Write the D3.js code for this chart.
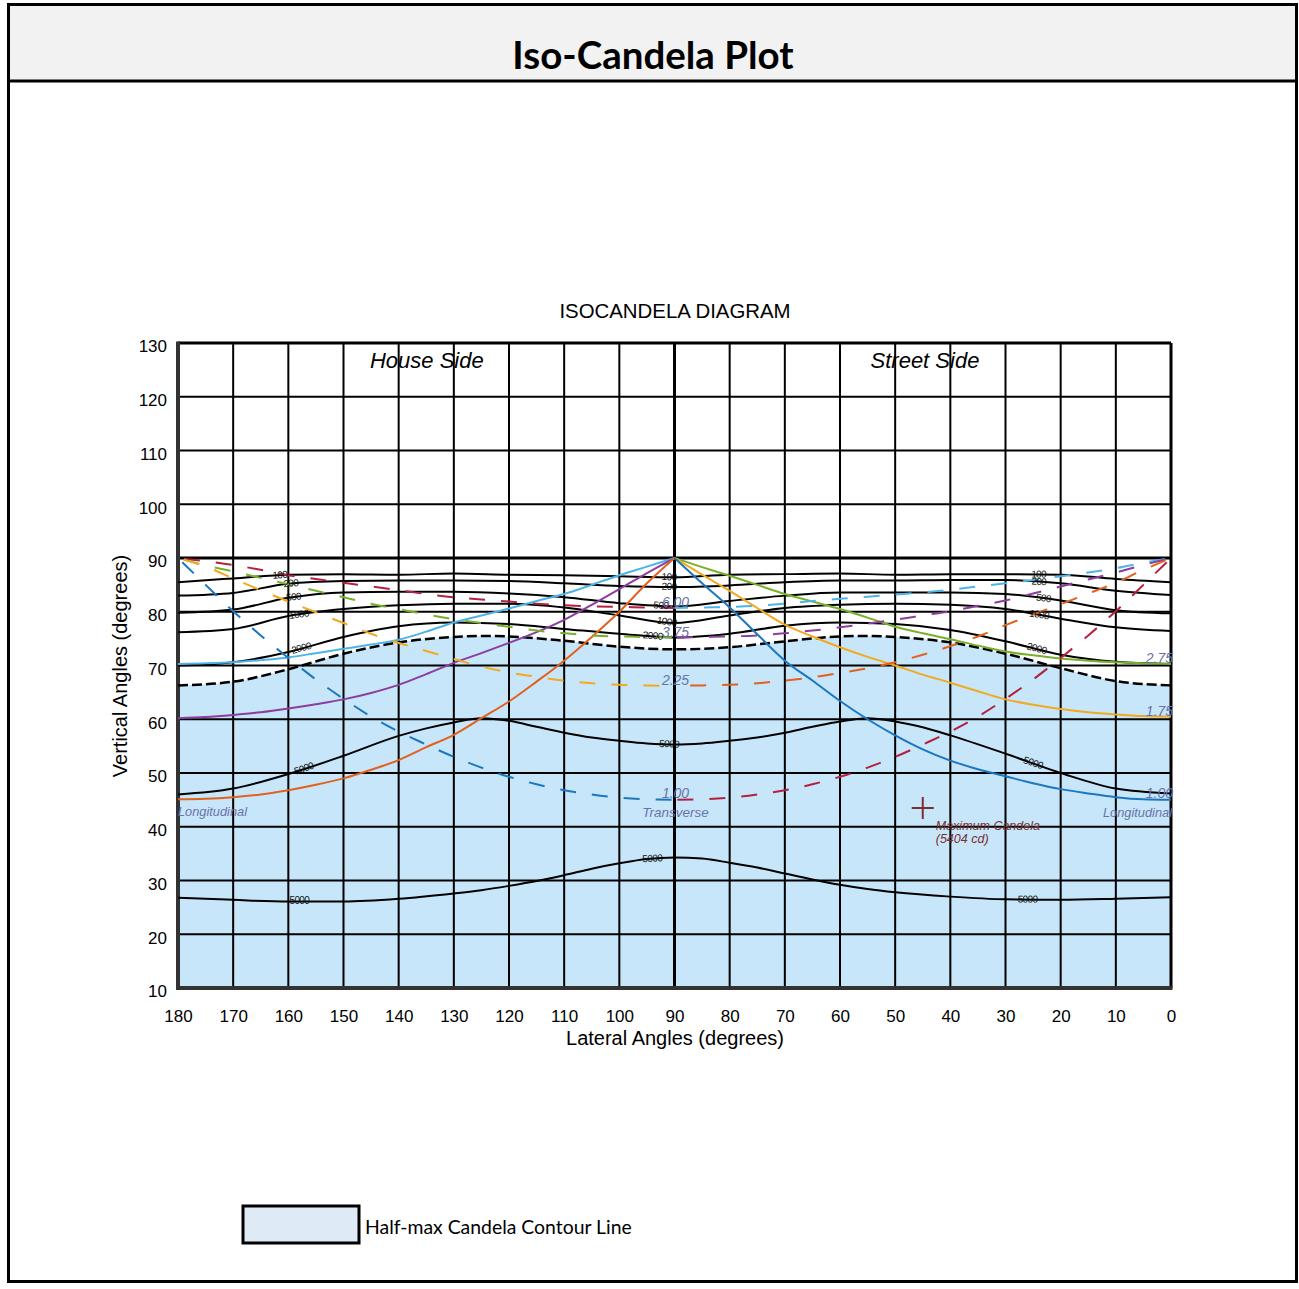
<!DOCTYPE html>
<html><head><meta charset="utf-8">
<script src="https://cdn.jsdelivr.net/npm/d3@7"></script>
<style>body{margin:0;background:#fff} svg{display:block}</style>
</head><body><svg id="c" width="1299" height="1289"></svg>
<script>
// ---------- DATA ----------
const lateralTicks = [180,170,160,150,140,130,120,110,100,90,80,70,60,50,40,30,20,10,0];
const verticalTicks = [130,120,110,100,90,80,70,60,50,40,30,20,10];

const contourLat = [180,170,160,150,140,130,120,110,100,90,80,70,60,50,40,30,20,10,0];
const cd100  = [85.5,86.2,86.9,87.0,86.9,87.1,86.9,86.8,86.6,86.4,86.9,87.0,87.1,86.9,87.0,87.0,86.9,86.1,85.5];
const cd200  = [83.0,83.5,85.2,85.7,85.8,85.8,85.7,85.3,84.8,84.6,84.9,85.5,85.8,85.8,85.9,85.9,85.3,83.9,83.1];
const cd500  = [79.8,80.4,82.6,83.6,83.7,83.7,83.4,82.7,81.6,81.0,82.0,83.0,83.6,83.6,83.6,83.3,82.1,80.3,79.7];
const cd1000 = [76.2,76.8,79.2,80.5,81.2,81.5,81.5,80.8,79.3,77.9,79.3,80.7,81.3,81.5,81.3,80.5,78.7,77.1,76.4];
const cd2000 = [70.0,70.6,72.5,75.3,77.3,78.0,77.7,76.8,75.9,75.2,75.9,77.4,78.0,77.7,76.6,74.5,72.0,70.7,70.3];

const halfMaxLat = [180,170,160,150,140,130,125,120,110,100,90,80,70,60,55,50,40,30,20,10,0];
const halfMax    = [66.3,67.0,69.3,72.2,74.3,75.3,75.5,75.4,74.6,73.5,73.0,73.4,74.5,75.4,75.5,75.3,74.3,72.2,69.5,67.1,66.3];

const cd5000UpperLat = [180,170,160,150,140,135,130,125,120,115,110,105,100,95,90,85,80,75,70,65,60,55,50,45,40,30,20,10,0];
const cd5000Upper    = [46.0,47.1,49.8,53.2,56.9,58.3,59.4,60.2,59.7,58.6,57.5,56.6,56.0,55.5,55.3,55.5,56.0,56.6,57.5,58.6,59.6,60.2,59.6,58.5,57.0,53.6,50.0,47.1,46.2];

const cd5000LowerLat = [180,170,160,150,140,130,125,120,115,110,105,100,95,90,85,80,75,70,65,60,55,50,40,30,20,10,0];
const cd5000Lower    = [26.8,26.4,26.1,26.1,26.6,27.6,28.2,29.0,29.9,31.0,32.2,33.2,34.0,34.3,34.1,33.3,32.4,31.3,30.2,29.2,28.4,27.8,27.0,26.5,26.4,26.6,26.9];

// solid (longitudinal) curves from the 90/90 apex
const latLeft  = [90,95,100,105,110,115,120,125,130,135,140,145,150,155,160,165,170,175,180];
const latRight = [90,85,80,75,70,65,60,55,50,45,40,35,30,25,20,15,10,5,0];
const lightBlueSolid = [90,88.4,86.8,85.0,83.3,82.0,80.6,79.3,78.0,76.3,74.8,73.9,73.1,72.3,71.5,71.0,70.6,70.4,70.3];
const purpleSolid    = [90,87.2,84.2,81.3,78.5,76.2,74.2,72.3,70.5,68.4,66.4,64.9,63.7,62.8,62.0,61.3,60.8,60.4,60.2];
const orangeSolid    = [90,85.3,80.0,75.3,70.9,67.0,63.3,60.2,57.1,54.8,52.4,50.6,49.0,47.8,46.8,46.0,45.5,45.2,45.1];
const greenSolid     = [90,88.3,86.7,85.0,83.3,81.9,80.5,78.9,77.2,76.0,74.9,73.7,72.6,71.9,71.3,70.9,70.6,70.4,70.3];
const yellowSolid    = [90,86.9,83.9,80.7,77.6,75.4,73.4,71.6,70.0,68.3,66.8,65.2,63.7,62.7,61.9,61.3,60.9,60.6,60.5];
const blueSolid      = [90,85.3,80.8,75.8,70.9,67.2,63.4,60.0,57.0,54.4,52.3,50.7,49.4,48.1,47.0,46.2,45.5,45.1,45.0];

// dashed (transverse) curves from the corners
const latDashLeft  = [180,175,170,165,160,155,150,145,140,135,130,125,120,115,110,105,100,95,90];
const latDashRight = [0,5,10,15,20,25,30,35,40,45,50,55,60,65,70,75,80,85,90];
const crimsonDashL   = [90.0,89.4,88.7,87.8,86.8,86.1,85.4,84.7,84.0,83.3,82.7,82.3,81.9,81.5,81.2,81.0,80.9,80.8,80.7];
const greenDashL     = [90.0,88.6,87.5,86.3,85.1,83.9,82.7,81.5,80.5,79.5,78.6,77.9,77.2,76.5,76.0,75.6,75.4,75.3,75.2];
const yellowDashL    = [90.0,88.4,86.2,84.0,81.9,79.9,77.9,75.9,74.2,72.7,71.2,69.8,68.7,67.9,67.2,66.7,66.4,66.3,66.2];
const blueDashL      = [90.0,85.0,80.1,75.6,71.4,67.4,63.8,60.5,57.7,55.3,53.0,51.0,49.3,47.9,46.8,46.0,45.4,45.1,45.0];
const lightBlueDashR = [90.0,89.1,88.1,87.3,86.6,85.9,85.3,84.7,84.1,83.6,83.2,82.8,82.4,82.0,81.5,81.1,80.9,80.8,80.7];
const purpleDashR    = [90.0,88.7,87.3,86.0,84.7,83.4,82.1,81.1,80.1,79.3,78.5,77.8,77.1,76.5,76.0,75.6,75.4,75.3,75.2];
const orangeDashR    = [90.0,87.8,85.4,83.4,81.4,79.5,77.5,75.4,73.6,72.0,70.6,69.5,68.6,67.8,67.2,66.7,66.4,66.3,66.2];
const crimsonDashR   = [90.0,85.0,80.1,75.6,71.4,67.4,63.8,60.5,57.7,55.3,53.0,51.0,49.3,47.9,46.8,46.0,45.4,45.1,45.0];

const maxCandela = {lat: 45, vert: 43.5, value: 5404};

// contour label lateral positions (left / centre / right)
const labelLats = {
  "100":[161.5,91,24], "200":[159.5,91,24], "500":[159,92.5,23.2],
  "1000":[158,91.5,24], "2000":[157.5,94,24.5]
};

// ---------- DRAW ----------
const svg = d3.select('#c');
const x = d3.scaleLinear().domain([180,0]).range([178,1171]);
const y = d3.scaleLinear().domain([10,130]).range([988,343]);
const AR = '"Liberation Sans", Arial, sans-serif';
const CAL = 'Lato, "Open Sans", sans-serif';

const C = {lightBlue:'#4db4e7', purple:'#8c3d9e', orange:'#e2611d', green:'#78b02c',
           yellow:'#f2a91e', blue:'#1b77c0', crimson:'#b3213f', label:'#6a73a8', maxc:'#7b2f2f'};

// outer frame + title band
svg.append('rect').attr('x',8.5).attr('y',4.5).attr('width',1288).attr('height',1277)
  .attr('fill','#fff').attr('stroke','#000').attr('stroke-width',3);
svg.append('rect').attr('x',8.5).attr('y',4.5).attr('width',1288).attr('height',76.5)
  .attr('fill','#f2f2f2').attr('stroke','#000').attr('stroke-width',3);
svg.append('text').attr('x',653).attr('y',69).attr('text-anchor','middle')
  .attr('font-family',CAL).attr('font-weight',700).attr('font-size',38.5).text('Iso-Candela Plot');

svg.append('text').attr('x',675).attr('y',318).attr('text-anchor','middle')
  .attr('font-family',AR).attr('font-size',20.4).text('ISOCANDELA DIAGRAM');

const defs = svg.append('defs');
defs.append('clipPath').attr('id','plotclip').append('rect')
  .attr('x',x(180)).attr('y',y(130)).attr('width',x(0)-x(180)).attr('height',y(10)-y(130));

const plot = svg.append('g');
const zip = (a,b)=>a.map((v,i)=>[v,b[i]]);
const line = d3.line().x(d=>x(d[0])).y(d=>y(d[1])).curve(d3.curveMonotoneX);

// half-max fill
const area = d3.area().x(d=>x(d[0])).y0(y(10)).y1(d=>y(d[1])).curve(d3.curveMonotoneX);
plot.append('path').datum(zip(halfMaxLat, halfMax)).attr('d', area)
  .attr('fill','#c7e6fa').attr('clip-path','url(#plotclip)');

// grid
plot.selectAll('.hg').data(verticalTicks).join('line')
  .attr('x1',x(180)).attr('x2',x(0)).attr('y1',d=>y(d)).attr('y2',d=>y(d))
  .attr('stroke','#000').attr('stroke-width',d=>(d===90||d===130)?3:2);
plot.selectAll('.vg').data(lateralTicks).join('line')
  .attr('y1',y(10)).attr('y2',y(130)).attr('x1',d=>x(d)).attr('x2',d=>x(d))
  .attr('stroke','#000').attr('stroke-width',d=>(d===90||d===0)?3:2);
plot.append('line').attr('x1',x(180)).attr('x2',x(180)).attr('y1',y(130)-1.5).attr('y2',y(10)+2)
  .attr('stroke','#333').attr('stroke-width',4);
plot.append('line').attr('x1',x(180)-2).attr('x2',x(0)+1.5).attr('y1',y(10)).attr('y2',y(10))
  .attr('stroke','#333').attr('stroke-width',4);

const cg = plot.append('g').attr('clip-path','url(#plotclip)');
// black contours
[[contourLat,cd100],[contourLat,cd200],[contourLat,cd500],[contourLat,cd1000],[contourLat,cd2000],
 [cd5000UpperLat,cd5000Upper],[cd5000LowerLat,cd5000Lower]].forEach(([la,v])=>{
  cg.append('path').datum(zip(la,v)).attr('d',line).attr('fill','none')
    .attr('stroke','#000').attr('stroke-width',2);
});
cg.append('path').datum(zip(halfMaxLat,halfMax)).attr('d',line).attr('fill','none')
  .attr('stroke','#000').attr('stroke-width',2.5).attr('stroke-dasharray','10,4');

// colored solid curves
[[latLeft,lightBlueSolid,C.lightBlue],[latLeft,purpleSolid,C.purple],[latLeft,orangeSolid,C.orange],
 [latRight,greenSolid,C.green],[latRight,yellowSolid,C.yellow],[latRight,blueSolid,C.blue]].forEach(([la,v,c])=>{
  cg.append('path').datum(zip(la,v)).attr('d',line).attr('fill','none')
    .attr('stroke',c).attr('stroke-width',2);
});
// colored dashed curves
[[latDashLeft,crimsonDashL,C.crimson],[latDashLeft,greenDashL,C.green],[latDashLeft,yellowDashL,C.yellow],
 [latDashLeft,blueDashL,C.blue],[latDashRight,lightBlueDashR,C.lightBlue],[latDashRight,purpleDashR,C.purple],
 [latDashRight,orangeDashR,C.orange],[latDashRight,crimsonDashR,C.crimson]].forEach(([la,v,c])=>{
  cg.append('path').datum(zip(la,v)).attr('d',line).attr('fill','none')
    .attr('stroke',c).attr('stroke-width',2).attr('stroke-dasharray','16,16').attr('stroke-dashoffset',-6);
});

// contour labels
function interp(la, v, L){
  for(let i=0;i<la.length-1;i++){
    const a=la[i], b=la[i+1];
    if((L<=a&&L>=b)||(L>=a&&L<=b)){ const t=(L-a)/(b-a); return v[i]+t*(v[i+1]-v[i]); }
  }
  return v[v.length-1];
}
function contourLabel(la, v, L, txt){
  const px=x(L), py=y(interp(la,v,L));
  const dx=x(L-1)-x(L+1), dy=y(interp(la,v,L-1))-y(interp(la,v,L+1));
  const ang=Math.atan2(dy,dx)*180/Math.PI;
  plot.append('text').attr('transform',`translate(${px},${py+3}) rotate(${ang})`)
    .attr('text-anchor','middle').attr('font-family',AR).attr('font-size',10)
    .attr('letter-spacing',-0.6).attr('fill','#111').text(txt);
}
const contourMap = {"100":cd100,"200":cd200,"500":cd500,"1000":cd1000,"2000":cd2000};
Object.keys(labelLats).forEach(k=>labelLats[k].forEach(L=>contourLabel(contourLat,contourMap[k],L,k)));
[157,91,25.2].forEach(L=>contourLabel(cd5000UpperLat,cd5000Upper,L,'5000'));
[158,94,26].forEach(L=>contourLabel(cd5000LowerLat,cd5000Lower,L,'5000'));

// distance labels
const lab = (tx,ty,t,anchor,fs)=>plot.append('text').attr('x',tx).attr('y',ty).attr('text-anchor',anchor||'middle')
  .attr('font-family',AR).attr('font-style','italic').attr('font-size',fs||14).attr('fill',C.label).text(t);
lab(x(90)+1, y(crimsonDashL[18])-1, '6.00');
lab(x(90)+1, y(greenDashL[18])-1, '3.75');
lab(x(90)+1, y(yellowDashL[18])-1, '2.25');
lab(x(90)+1, y(blueDashL[18])-2, '1.00');
lab(x(90)+1, y(blueDashL[18])+17, 'Transverse','middle',13.5);
lab(x(0)+2, y(greenSolid[18])-1, '2.75','end');
lab(x(0)+2, y(yellowSolid[18])-1, '1.75','end');
lab(x(0)+2, y(blueSolid[18])-2, '1.00','end');
lab(x(0)+1, y(blueSolid[18])+17, 'Longitudinal','end',12.8);
lab(x(180), y(orangeSolid[18])+17, 'Longitudinal','start',12.8);

// maximum candela marker
const mx=x(maxCandela.lat), my=y(maxCandela.vert);
plot.append('path').attr('d',`M${mx-11},${my}H${mx+11}M${mx},${my-11}V${my+11}`)
  .attr('stroke',C.maxc).attr('stroke-width',2).attr('fill','none');
plot.append('text').attr('x',mx+13).attr('y',my+22).attr('font-family',AR).attr('font-style','italic')
  .attr('font-size',12.5).attr('fill',C.maxc).text('Maximum  Candela');
plot.append('text').attr('x',mx+13).attr('y',my+35).attr('font-family',AR).attr('font-style','italic')
  .attr('font-size',12.5).attr('fill',C.maxc).text(`(${maxCandela.value} cd)`);

// side labels
plot.append('text').attr('x',x(134.9)).attr('y',368).attr('text-anchor','middle').attr('font-family',AR)
  .attr('font-style','italic').attr('font-size',22).text('House Side');
plot.append('text').attr('x',x(44.6)).attr('y',368).attr('text-anchor','middle').attr('font-family',AR)
  .attr('font-style','italic').attr('font-size',22).text('Street Side');

// axes
const xa = svg.append('g').attr('transform',`translate(0,${y(10)})`)
  .call(d3.axisBottom(x).tickValues(lateralTicks).tickSize(0).tickPadding(22).tickFormat(d3.format('d')));
xa.select('.domain').remove();
xa.selectAll('text').attr('font-family',AR).attr('font-size',17).attr('fill','#000');
const ya = svg.append('g').attr('transform',`translate(${x(180)},0)`)
  .call(d3.axisLeft(y).tickValues(verticalTicks).tickSize(0).tickPadding(11).tickFormat(d3.format('d')));
ya.select('.domain').remove();
ya.selectAll('text').attr('font-family',AR).attr('font-size',17).attr('fill','#000').attr('dy','0.52em');

svg.append('text').attr('x',675).attr('y',1045).attr('text-anchor','middle').attr('font-family',AR)
  .attr('font-size',20).text('Lateral Angles (degrees)');
svg.append('text').attr('transform','translate(127,666) rotate(-90)').attr('text-anchor','middle')
  .attr('font-family',AR).attr('font-size',20).text('Vertical Angles (degrees)');

// legend
svg.append('rect').attr('x',243).attr('y',1206).attr('width',116).attr('height',37)
  .attr('fill','#deebf7').attr('stroke','#000').attr('stroke-width',3);
svg.append('text').attr('x',365).attr('y',1234).attr('font-family',CAL).attr('font-size',19.4)
  .text('Half-max Candela Contour Line');
</script></body></html>
